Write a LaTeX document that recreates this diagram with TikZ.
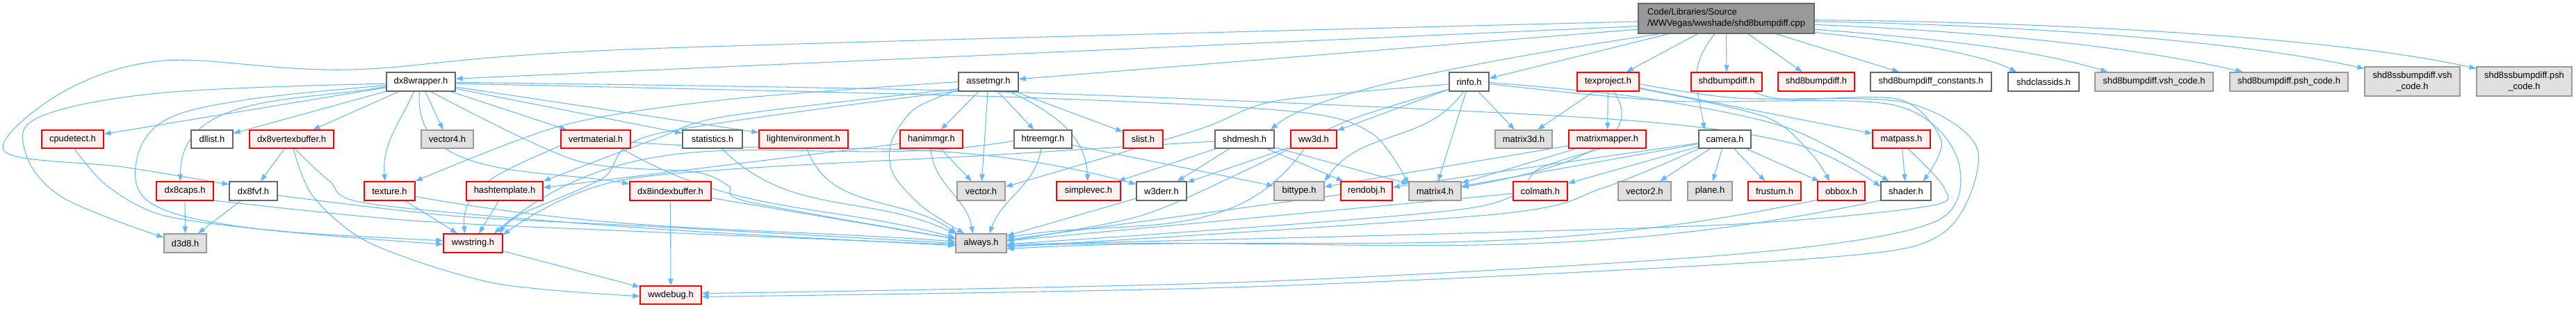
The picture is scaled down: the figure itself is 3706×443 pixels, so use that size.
\documentclass[tikz,border=0pt]{standalone}
\usepackage{fontspec}
\setmainfont{Liberation Sans}
\usetikzlibrary{arrows.meta}
\pgfdeclarelayer{bg}
\pgfsetlayers{bg,main}
\definecolor{eb}{HTML}{63B8FF}
\definecolor{rfill}{HTML}{FFF0F0}
\definecolor{gfill}{HTML}{E0E0E0}
\definecolor{gdraw}{HTML}{999999}
\definecolor{wdraw}{HTML}{666666}
\definecolor{tfill}{HTML}{999999}
\tikzset{
 nbase/.style={rectangle,inner sep=0pt,line width=1pt,font=\fontsize{9.7}{11.8}\selectfont,text=black},
 wn/.style={nbase,fill=white,draw=wdraw},
 rn/.style={nbase,fill=rfill,draw=red},
 gn/.style={nbase,fill=gfill,draw=gdraw},
 tn/.style={nbase,fill=tfill,draw=wdraw,align=left},
 edg/.style={draw=eb,line width=0.8pt,-{Triangle[length=7.5pt,width=5.5pt]}},
}
\newcommand\bx[7]{\node[#6,minimum width={(#3-#2)*0.75pt},minimum height={(#5-#4)*0.75pt}] (#1) at ({(#2+#3)/2},{(#4+#5)/2}) {#7};}
\begin{document}
\begin{tikzpicture}[x=0.75pt,y=-0.75pt]
\useasboundingbox (0,0) rectangle (3706,443);
% top
\bx{T}{2357}{2610}{5}{48}{tn}{Code/Libraries/Source\\/WWVegas/wwshade/shd8bumpdiff.cpp}
% row 1
\bx{dxw}{556}{655}{104}{131}{wn}{dx8wrapper.h}
\bx{asset}{1379}{1465}{104}{131}{wn}{assetmgr.h}
\bx{rinfo}{2085}{2142}{104}{131}{wn}{rinfo.h}
\bx{texp}{2269}{2358}{104}{131}{rn}{texproject.h}
\bx{sbd}{2433}{2535}{104}{131}{rn}{shdbumpdiff.h}
\bx{s8bd}{2558}{2668}{104}{131}{rn}{shd8bumpdiff.h}
\bx{const}{2691}{2865}{104}{131}{wn}{shd8bumpdiff\_constants.h}
\bx{cls}{2889}{2991}{104}{131}{wn}{shdclassids.h}
\bx{vsh}{3014}{3184}{104}{131}{gn}{shd8bumpdiff.vsh\_code.h}
\bx{psh}{3208}{3378}{104}{131}{gn}{shd8bumpdiff.psh\_code.h}
\bx{ssvsh}{3402}{3539}{96}{138}{gn,align=center}{shd8ssbumpdiff.vsh\\\_code.h}
\bx{sspsh}{3563}{3700}{96}{138}{gn,align=center}{shd8ssbumpdiff.psh\\\_code.h}
% row 2
\bx{cpu}{60}{149}{187}{213}{rn}{cpudetect.h}
\bx{dll}{275}{335}{187}{213}{wn}{dllist.h}
\bx{dvb}{359}{480}{187}{213}{rn}{dx8vertexbuffer.h}
\bx{v4}{606}{681}{187}{213}{gn}{vector4.h}
\bx{vmat}{807}{907}{187}{213}{rn}{vertmaterial.h}
\bx{stat}{982}{1068}{187}{213}{wn}{statistics.h}
\bx{lenv}{1092}{1220}{187}{213}{rn}{lightenvironment.h}
\bx{hanim}{1295}{1385}{187}{213}{rn}{hanimmgr.h}
\bx{htree}{1459}{1542}{187}{213}{wn}{htreemgr.h}
\bx{slist}{1616}{1673}{187}{213}{rn}{slist.h}
\bx{shdmesh}{1748}{1833}{187}{213}{wn}{shdmesh.h}
\bx{ww3d}{1857}{1923}{187}{213}{rn}{ww3d.h}
\bx{m3d}{2151}{2233}{187}{213}{gn}{matrix3d.h}
\bx{mmap}{2257}{2368}{187}{213}{rn}{matrixmapper.h}
\bx{cam}{2444}{2519}{187}{213}{wn}{camera.h}
\bx{matpass}{2694}{2777}{187}{213}{rn}{matpass.h}
% row 3
\bx{caps}{225}{307}{261}{288}{rn}{dx8caps.h}
\bx{fvf}{330}{399}{261}{288}{wn}{dx8fvf.h}
\bx{tex}{524}{597}{261}{288}{rn}{texture.h}
\bx{hash}{671}{781}{261}{288}{rn}{hashtemplate.h}
\bx{dib}{906}{1023}{261}{288}{rn}{dx8indexbuffer.h}
\bx{vec}{1377}{1446}{261}{288}{gn}{vector.h}
\bx{svec}{1520}{1612}{261}{288}{rn}{simplevec.h}
\bx{w3derr}{1635}{1707}{261}{288}{wn}{w3derr.h}
\bx{bit}{1833}{1905}{261}{288}{gn}{bittype.h}
\bx{rend}{1929}{2003}{261}{288}{rn}{rendobj.h}
\bx{m4}{2027}{2102}{261}{288}{gn}{matrix4.h}
\bx{colm}{2177}{2255}{261}{288}{rn}{colmath.h}
\bx{v2}{2328}{2404}{261}{288}{gn}{vector2.h}
\bx{plane}{2428}{2492}{261}{288}{gn}{plane.h}
\bx{frust}{2515}{2591}{261}{288}{rn}{frustum.h}
\bx{obbox}{2615}{2683}{261}{288}{rn}{obbox.h}
\bx{shader}{2706}{2778}{261}{288}{wn}{shader.h}
% row 4
\bx{d3d8}{236}{297}{336}{363}{gn}{d3d8.h}
\bx{wws}{638}{723}{336}{363}{rn}{wwstring.h}
\bx{always}{1375}{1448}{336}{363}{gn}{always.h}
% row 5
\bx{wwdebug}{921}{1009}{411}{437}{rn}{wwdebug.h}

\begin{pgfonlayer}{bg}
% top node
\draw[edg] plot[smooth,tension=0.55] coordinates {(T.182) (930,70) (504,100) (237,87) (89,133) (6,217) (178,240) (fvf.165)};
\draw[edg] (T.185) -- (dxw.5);
\draw[edg] (T.187) -- (asset.5);
\draw[edg] (T.-165) -- (rinfo.10);
\draw[edg] (T.-167) .. controls +(-200,30) and +(70,-60) .. (shdmesh.20);
\draw[edg] (T) -- (texp);
\draw[edg] (T.-127) .. controls +(-40,50) and +(-10,-60) .. (cam.155);
\draw[edg] (T.south) -- (sbd.north);
\draw[edg] (T) -- (s8bd);
\draw[edg] (T) -- (const);
\draw[edg] (T.-9) .. controls +(100,10) and +(-60,-30) .. (cls.160);
\draw[edg] (T.-7) .. controls +(200,15) and +(-100,-30) .. (vsh.168);
\draw[edg] (T.-4) .. controls +(250,10) and +(-150,-35) .. (psh.168);
\draw[edg] (T.-2) .. controls +(300,5) and +(-180,-40) .. (ssvsh.165);
\draw[edg] (T.-1) .. controls +(350,3) and +(-200,-45) .. (sspsh.165);
% dx8wrapper
\draw[edg] (dxw) -- (cpu);
\draw[edg] (dxw) -- (dll);
\draw[edg] (dxw) -- (dvb);
\draw[edg] (dxw) -- (v4);
\draw[edg] (dxw) -- (vmat);
\draw[edg] (dxw) -- (stat);
\draw[edg] (dxw) -- (lenv);
\draw[edg] (dxw.188) to[out=190,in=90] (caps.115);
\draw[edg] plot[smooth,tension=0.6] coordinates {(dxw.183) (237,133) (59,167) (36,217) (89,283) (d3d8.165)};
\draw[edg] plot[smooth,tension=0.6] coordinates {(dxw.186) (356,143) (237,173) (196,233) (219,293) (356,327) (wws.182)};
\draw[edg] (dxw.235) to[out=245,in=95] (tex.115);
\draw[edg] (dxw.262) to[out=265,in=170] (dib.170);
\draw[edg] plot[smooth] coordinates {(dxw.-45) (827,230) (999,247) (1048,267) (1077,290) (always.170)};
\draw[edg] plot[smooth] coordinates {(dxw.-3) (1440,139) (1859,160) (1974,192) (m4.165)};
\draw[edg] plot[smooth] coordinates {(dxw.-1) (1440,132) (2300,170) (2583,207) (shader.170)};
% assetmgr
\draw[edg] (asset) -- (hanim);
\draw[edg] (asset) -- (vec);
\draw[edg] (asset) -- (htree);
\draw[edg] (asset) -- (slist);
\draw[edg] (asset.-25) to[out=-25,in=92] (svec.95);
\draw[edg] plot[smooth] coordinates {(asset.195) (1315,157) (1282,205) (1285,250) (1327,297) (always.150)};
\draw[edg] plot[smooth] coordinates {(asset.west) (1045,143) (810,180) (tex.north east)};
\draw[edg] plot[smooth] coordinates {(asset.193) (1045,167) (942,200) (hash.north east)};
\draw[edg] plot[smooth] coordinates {(asset.197) (942,193) (867,256) (747,309) (wws.20)};
% hanimmgr / htreemgr
\draw[edg] (hanim.188) -- (hash.5);
\draw[edg] (hanim) -- (vec);
\draw[edg] (hanim.-95) to[out=-85,in=100] (always.130);
\draw[edg] (htree) -- (bit);
\draw[edg] (htree.-100) to[out=-100,in=70] (always.50);
\draw[edg] (htree.183) to[out=190,in=40] (wws.25);
% shdmesh
\draw[edg] (shdmesh) -- (svec);
\draw[edg] (shdmesh) -- (w3derr);
\draw[edg] (shdmesh) -- (rend);
\draw[edg] (shdmesh) -- (m4);
\draw[edg] plot[smooth] coordinates {(shdmesh.184) (1440,222) (904,257) (wws.15)};
% ww3d, w3derr, rendobj, colmath
\draw[edg] (ww3d) -- (w3derr);
\draw[edg] (ww3d.-135) to[out=235,in=10] (always.12);
\draw[edg] (w3derr) -- (always);
\draw[edg] (rend) -- (always);
\draw[edg] (colm) -- (always);
% rinfo
\draw[edg] (rinfo) -- (ww3d);
\draw[edg] (rinfo) -- (m3d);
\draw[edg] (rinfo) -- (m4);
\draw[edg] (rinfo.-120) to[out=235,in=55] (bit.north east);
\draw[edg] plot[smooth] coordinates {(rinfo.187) (1836,145) (1721,187) (vec.10)};
\draw[edg] plot[smooth] coordinates {(rinfo.200) (1940,173) (1802,240) (1641,310) (always.5)};
\draw[edg] plot[smooth] coordinates {(rinfo.-2) (2360,140) (2570,183) (shader.150)};
\draw[edg] plot[smooth] coordinates {(rinfo.-6) (2400,145) (2720,150) (2815,225) (2785,318) (2500,365) (1800,405) (wwdebug.3)};
% texproject
\draw[edg] (texp) -- (m3d);
\draw[edg] (texp) -- (mmap);
\draw[edg] (texp.-60) to[out=-55,in=10] (m4.8);
\draw[edg] (texp) -- (matpass);
\draw[edg] plot[smooth] coordinates {(texp.-12) (2540,168) (2605,220) (obbox.140)};
\draw[edg] plot[smooth] coordinates {(texp.-4) (2500,141) (2740,147) (2845,215) (2795,335) (2600,372) (1800,412) (wwdebug.-3)};
% shdbumpdiff, matpass
\draw[edg] plot[smooth] coordinates {(sbd.-20) (2570,143) (2733,143) (2793,203) (shader.30)};
\draw[edg] (matpass) -- (shader);
\draw[edg] plot[smooth] coordinates {(matpass.-55) (2797,270) (2775,296) (2500,322) (2000,338) (always.-3)};
% camera
\draw[edg] (cam) -- (colm);
\draw[edg] (cam) -- (v2);
\draw[edg] (cam) -- (plane);
\draw[edg] (cam) -- (frust);
\draw[edg] (cam) -- (obbox);
\draw[edg] (cam) -- (m4);
\draw[edg] (cam) -- (rend);
\draw[edg] plot[smooth] coordinates {(cam.200) (2306,270) (2150,308) (always.-8)};
% matrixmapper
\draw[edg] (mmap) -- (m4);
\draw[edg] (mmap) -- (bit);
\draw[edg] plot[smooth] coordinates {(mmap.-125) (2215,242) (2108,300) (always.-2)};
% obbox, shader
\draw[edg] (obbox.200) to[out=192,in=3] (always.-12);
\draw[edg] (shader.200) to[out=192,in=2] (always.-6);
% left part
\draw[edg] plot[smooth] coordinates {(cpu.-80) (154,267) (237,310) (415,333) (wws.175)};
\draw[edg] (caps) -- (d3d8);
\draw[edg] plot[smooth] coordinates {(caps.-18) (593,317) (930,333) (always.183)};
\draw[edg] (fvf) -- (d3d8);
\draw[edg] plot[smooth] coordinates {(fvf.-10) (650,310) (930,325) (always.180)};
\draw[edg] (dvb) -- (fvf);
\draw[edg] plot[smooth] coordinates {(dvb.-80) (451,283) (534,350) (712,407) (wwdebug.182)};
\draw[edg] plot[smooth] coordinates {(dvb.-70) (474,260) (534,293) (930,328) (always.185)};
\draw[edg] (tex) -- (wws);
\draw[edg] (tex.-12) to[out=-10,in=176] (always.176);
\draw[edg] (hash) -- (wws);
\draw[edg] (vmat.190) to[out=205,in=95] (wws.130);
\draw[edg] (vmat.-5) to[out=-4,in=165] (w3derr.165);
\draw[edg] (vmat.-20) to[out=-30,in=165] (always.168);
\draw[edg] (stat) to[out=-45,in=155] (always.160);
\draw[edg] (lenv) to[out=-70,in=145] (always.158);
\draw[edg] (dib) -- (wwdebug);
\draw[edg] (dib) -- (always);
\draw[edg] (wws) -- (wwdebug);
\end{pgfonlayer}
\end{tikzpicture}
\end{document}
